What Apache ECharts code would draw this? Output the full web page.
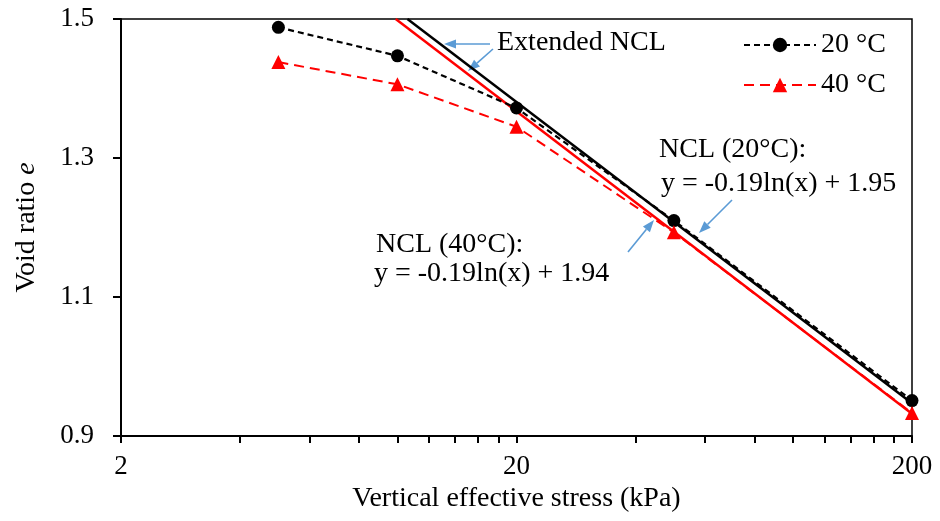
<!DOCTYPE html>
<html>
<head>
<meta charset="utf-8">
<script src="https://cdn.jsdelivr.net/npm/echarts@6/dist/echarts.min.js"></script>
<style>
html, body { margin: 0; padding: 0; background: #fff; }
#main { width: 940px; height: 521px; }
</style>
</head>
<body>
<div id="main"></div>
<script>
// data
var stress = [5, 10, 20, 50, 200];
var e20 = [1.488, 1.447, 1.372, 1.210, 0.951];
var e40 = [1.438, 1.406, 1.345, 1.193, 0.933];
var ncl20 = [[10.6, 1.5], [200, 0.947]];
var ncl40 = [[9.9, 1.5], [200, 0.932]];
var xLabels = [2, 20, 200];
var xTicks = [2, 4, 6, 8, 10, 12, 14, 16, 18, 20, 40, 60, 80, 100, 120, 140, 160, 180, 200];
var yTicks = [0.9, 1.1, 1.3, 1.5];

var FONT = 'Liberation Serif';
var ARROW = '#5B9BD5';

function pairs(xs, ys) {
	var out = [];
	for (var i = 0; i < xs.length; i++) {
		out.push([xs[i], ys[i]]);
	}
	return out;
}

// blue annotation arrow: tail (x1,y1) -> tip (x2,y2)
function arrow(x1, y1, x2, y2) {
	var dx = x2 - x1, dy = y2 - y1;
	var len = Math.sqrt(dx * dx + dy * dy);
	var ux = dx / len, uy = dy / len;
	var L = 12, W = 9;
	var bx = x2 - ux * L, by = y2 - uy * L;
	return {
		type: 'group',
		children: [{
			type: 'line',
			shape: { x1: x1, y1: y1, x2: bx, y2: by },
			style: { stroke: ARROW, lineWidth: 1.6 }
		}, {
			type: 'polygon',
			shape: { points: [[x2, y2], [bx - uy * W / 2, by + ux * W / 2], [bx + uy * W / 2, by - ux * W / 2]] },
			style: { fill: ARROW }
		}]
	};
}

function label(text, x, y) {
	return {
		type: 'text',
		x: x,
		y: y,
		style: { text: text, fontFamily: FONT, fontSize: 28, fill: '#000', verticalAlign: 'middle' }
	};
}

var myChart = echarts.init(document.getElementById('main'));

myChart.setOption({
	backgroundColor: '#fff',
	animation: false,
	grid: {
		left: 121,
		right: 28,
		top: 19,
		bottom: 85,
		show: true,
		borderColor: '#000',
		borderWidth: 1.5,
		backgroundColor: 'transparent'
	},
	legend: {
		data: ['20 °C', '40 °C'],
		orient: 'vertical',
		left: 738,
		top: 26,
		itemWidth: 72,
		itemHeight: 18,
		itemGap: 12,
		textStyle: { fontFamily: FONT, fontSize: 28, color: '#000' }
	},
	xAxis: {
		type: 'log',
		logBase: 10,
		min: 2,
		max: 200,
		axisLine: { onZero: false, lineStyle: { color: '#000', width: 2 } },
		axisTick: { customValues: xTicks, length: 7, lineStyle: { color: '#000', width: 2 } },
		axisLabel: {
			customValues: xLabels,
			margin: 17,
			fontFamily: FONT,
			fontSize: 27,
			color: '#000',
			formatter: function (v) { return String(Math.round(v)); }
		},
		splitLine: { show: false },
		name: 'Vertical effective stress (kPa)',
		nameLocation: 'middle',
		nameGap: 45,
		nameTextStyle: { fontFamily: FONT, fontSize: 28, color: '#000' }
	},
	yAxis: {
		type: 'value',
		min: 0.9,
		max: 1.5,
		interval: 0.2,
		axisLine: { show: true, onZero: false, lineStyle: { color: '#000', width: 2 } },
		axisTick: { show: true, customValues: yTicks, length: 8, lineStyle: { color: '#000', width: 2 } },
		axisLabel: {
			customValues: yTicks,
			margin: 27,
			fontFamily: FONT,
			fontSize: 27,
			color: '#000',
			formatter: function (v) { return v.toFixed(1); }
		},
		splitLine: { show: false },
		name: '{a|Void ratio }{b|e}',
		nameLocation: 'middle',
		nameGap: 80,
		nameTextStyle: {
			rich: {
				a: { fontFamily: FONT, fontSize: 28, color: '#000' },
				b: { fontFamily: FONT, fontSize: 28, color: '#000', fontStyle: 'italic' }
			}
		}
	},
	graphic: [
		label('Extended NCL', 497, 43),
		label('NCL (20°C):', 659, 150),
		label('y = -0.19ln(x) + 1.95', 661, 184),
		label('NCL (40°C):', 376, 245),
		label('y = -0.19ln(x) + 1.94', 374, 274),
		arrow(490, 44, 444, 44),
		arrow(493, 49, 468, 71),
		arrow(732, 200, 699, 233),
		arrow(628, 252, 654, 220)
	],
	series: [{
		name: 'NCL 20',
		type: 'line',
		data: ncl20,
		symbol: 'none',
		lineStyle: { color: '#000', width: 2.5 },
		z: 2
	}, {
		name: 'NCL 40',
		type: 'line',
		data: ncl40,
		symbol: 'none',
		lineStyle: { color: '#ff0000', width: 2.5 },
		z: 2
	}, {
		name: '20 °C',
		type: 'line',
		data: pairs(stress, e20),
		symbol: 'circle',
		symbolSize: 13,
		itemStyle: { color: '#000' },
		lineStyle: { color: '#000', width: 2.2, type: [6, 4] },
		z: 3
	}, {
		name: '40 °C',
		type: 'line',
		data: pairs(stress, e40),
		symbol: 'triangle',
		symbolSize: 14,
		itemStyle: { color: '#ff0000' },
		lineStyle: { color: '#ff0000', width: 2, type: [10, 6] },
		z: 3
	}]
});
</script>
</body>
</html>
